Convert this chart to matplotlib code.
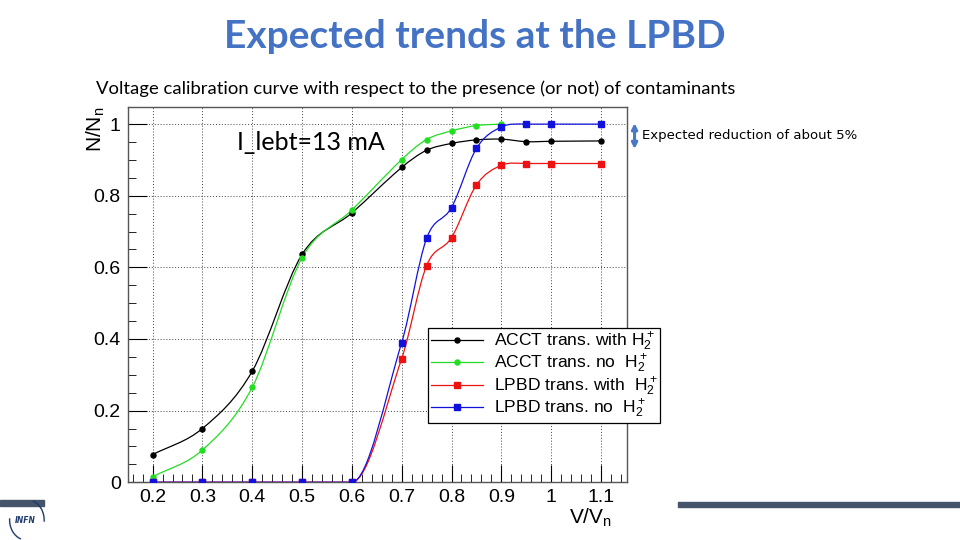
import numpy as np
import matplotlib
matplotlib.use("Agg")
import matplotlib.pyplot as plt
from matplotlib.path import Path
from matplotlib.patches import PathPatch, Rectangle, Arc
from matplotlib.ticker import MultipleLocator

# data (V/Vn vs N/Nn)
v_acct_with = [0.2, 0.3, 0.4, 0.5, 0.6, 0.7, 0.75, 0.8, 0.85, 0.9, 0.95, 1.0, 1.1]
n_acct_with = [0.077, 0.15, 0.31, 0.636, 0.752, 0.879, 0.927, 0.946, 0.956, 0.958, 0.951, 0.952, 0.953]

v_acct_no = [0.2, 0.3, 0.4, 0.5, 0.6, 0.7, 0.75, 0.8, 0.85, 0.9]
n_acct_no = [0.015, 0.09, 0.265, 0.627, 0.760, 0.901, 0.957, 0.981, 0.996, 1.0]

v_lpbd_with = [0.2, 0.3, 0.4, 0.5, 0.6, 0.7, 0.75, 0.8, 0.85, 0.9, 0.95, 1.0, 1.1]
n_lpbd_with = [0.0, 0.0, 0.0, 0.0, 0.0, 0.345, 0.605, 0.683, 0.830, 0.885, 0.890, 0.890, 0.890]

v_lpbd_no = [0.2, 0.3, 0.4, 0.5, 0.6, 0.7, 0.75, 0.8, 0.85, 0.9, 0.95, 1.0, 1.1]
n_lpbd_no = [0.0, 0.0, 0.0, 0.0, 0.0, 0.39, 0.681, 0.767, 0.932, 0.992, 1.0, 1.0, 1.0]

labels = [r"ACCT trans. with $\mathregular{H_2^+}$",
          r"ACCT trans. no  $\mathregular{H_2^+}$",
          r"LPBD trans. with  $\mathregular{H_2^+}$",
          r"LPBD trans. no  $\mathregular{H_2^+}$"]
colors = ["black", "#22dd22", "#ee1111", "#1111dd"]
markers = ["o", "o", "s", "s"]

xticks = [0.2, 0.3, 0.4, 0.5, 0.6, 0.7, 0.8, 0.9, 1.0, 1.1]
xticklabels = ["0.2", "0.3", "0.4", "0.5", "0.6", "0.7", "0.8", "0.9", "1", "1.1"]
yticks = [0, 0.2, 0.4, 0.6, 0.8, 1.0]
yticklabels = ["0", "0.2", "0.4", "0.6", "0.8", "1"]


def smooth_path(x, y):
    # bezier segments through the points (catmull-rom tangents, flat next to flat parts)
    x = np.asarray(x, float)
    y = np.asarray(y, float)
    h = np.diff(x)
    d = np.diff(y) / h
    m = np.zeros_like(y)
    m[0], m[-1] = d[0], d[-1]
    for i in range(1, len(x) - 1):
        if d[i - 1] == 0 or d[i] == 0:
            m[i] = 0
        else:
            m[i] = (y[i + 1] - y[i - 1]) / (x[i + 1] - x[i - 1])
    verts = [(x[0], y[0])]
    codes = [Path.MOVETO]
    for i in range(len(x) - 1):
        verts += [(x[i] + h[i] / 3, y[i] + m[i] * h[i] / 3),
                  (x[i + 1] - h[i] / 3, y[i + 1] - m[i + 1] * h[i] / 3),
                  (x[i + 1], y[i + 1])]
        codes += [Path.CURVE4] * 3
    return Path(verts, codes)


fig = plt.figure(figsize=(9.6, 5.4), dpi=100)
ax = fig.add_axes([0.133, 0.107, 0.52, 0.695])

series = [(v_acct_with, n_acct_with), (v_acct_no, n_acct_no),
          (v_lpbd_with, n_lpbd_with), (v_lpbd_no, n_lpbd_no)]
for (vx, ny), c, mk in zip(series, colors, markers):
    ax.add_patch(PathPatch(smooth_path(vx, ny), fill=False, edgecolor=c, lw=0.9, zorder=3))
    ax.plot(vx, ny, ls="None", color=c, marker=mk, ms=3.6 if mk == "o" else 4.2, zorder=4)

ax.set_xlim(0.15, 1.152)
ax.set_ylim(0, 1.048)
ax.set_xticks(xticks)
ax.set_xticklabels(xticklabels)
ax.set_yticks(yticks)
ax.set_yticklabels(yticklabels)
ax.xaxis.set_minor_locator(MultipleLocator(0.02))
ax.yaxis.set_minor_locator(MultipleLocator(0.05))
ax.tick_params(which="both", direction="in", top=False, right=False,
               labelsize=14, colors="black")
ax.tick_params(axis="x", which="major", length=12, pad=5)
ax.tick_params(axis="y", which="major", length=14, pad=5)
ax.tick_params(which="minor", length=6)
for lbl in ax.get_xticklabels() + ax.get_yticklabels():
    lbl.set_fontfamily("Liberation Sans")
ax.grid(True, which="major", ls=(0, (1, 2)), color="#444444", lw=0.7)
for s in ax.spines.values():
    s.set_color("#555555")
    s.set_linewidth(1.0)

ax.set_ylabel(r"N/N$\mathregular{_n}$", fontsize=15, family="Liberation Sans", loc="top")
ax.yaxis.set_label_coords(-0.042, 1.0)
ax.set_xlabel(r"V/V$\mathregular{_n}$", fontsize=15, family="Liberation Sans", loc="right")
ax.xaxis.set_label_coords(0.97, -0.065)

# legend with line + marker handles
handles = [plt.Line2D([], [], color=c, lw=0.9, marker=mk, ms=3.6 if mk == "o" else 4.2)
           for c, mk in zip(colors, markers)]
leg = fig.legend(handles, labels, loc="upper left", bbox_to_anchor=(0.446, 0.393),
                 frameon=True, fancybox=False, edgecolor="black", framealpha=1,
                 prop={"family": "Liberation Sans", "size": 12.6},
                 handlelength=3.0, labelspacing=0.0, borderpad=0.15, handletextpad=0.6,
                 borderaxespad=0)
leg.get_frame().set_linewidth(0.9)

ax.text(0.218, 0.904, "I_lebt=13 mA", transform=ax.transAxes, fontsize=18,
        family="Lato", va="center", ha="left")

fig.text(0.495, 0.932, "Expected trends at the LPBD", ha="center", va="center",
         fontsize=28, fontweight="bold", family="Lato", color="#4472C4")
fig.text(0.433, 0.835, "Voltage calibration curve with respect to the presence (or not) of contaminants",
         ha="center", va="center", fontsize=13.3, family="Lato", color="black")

ax.annotate("", xy=(0.661, 0.772), xycoords="figure fraction",
            xytext=(0.661, 0.724), textcoords="figure fraction",
            arrowprops=dict(arrowstyle="<|-|>", color="#4A78C4", lw=2.2,
                            mutation_scale=8, shrinkA=0, shrinkB=0),
            annotation_clip=False)
fig.text(0.669, 0.75, "Expected reduction of about 5%", ha="left", va="center",
         fontsize=9.5, family="DejaVu Sans", color="black")

# slide decorations
fig.add_artist(Rectangle((0.0, 0.063), 0.046, 0.011, transform=fig.transFigure,
                         color="#44546A"))
fig.add_artist(Rectangle((0.706, 0.061), 0.294, 0.009, transform=fig.transFigure,
                         color="#44546A"))
fig.text(0.026, 0.037, "INFN", ha="center", va="center", fontsize=5.5,
         fontweight="bold", style="italic", color="#1F3A6E")
fig.add_artist(Arc((0.028, 0.037), 0.036, 0.075, theta1=-10, theta2=80,
                   transform=fig.transFigure, color="#1F3A6E", lw=1))
fig.add_artist(Arc((0.028, 0.037), 0.036, 0.075, theta1=170, theta2=260,
                   transform=fig.transFigure, color="#1F3A6E", lw=1))

fig.savefig("out.png", dpi=100)
